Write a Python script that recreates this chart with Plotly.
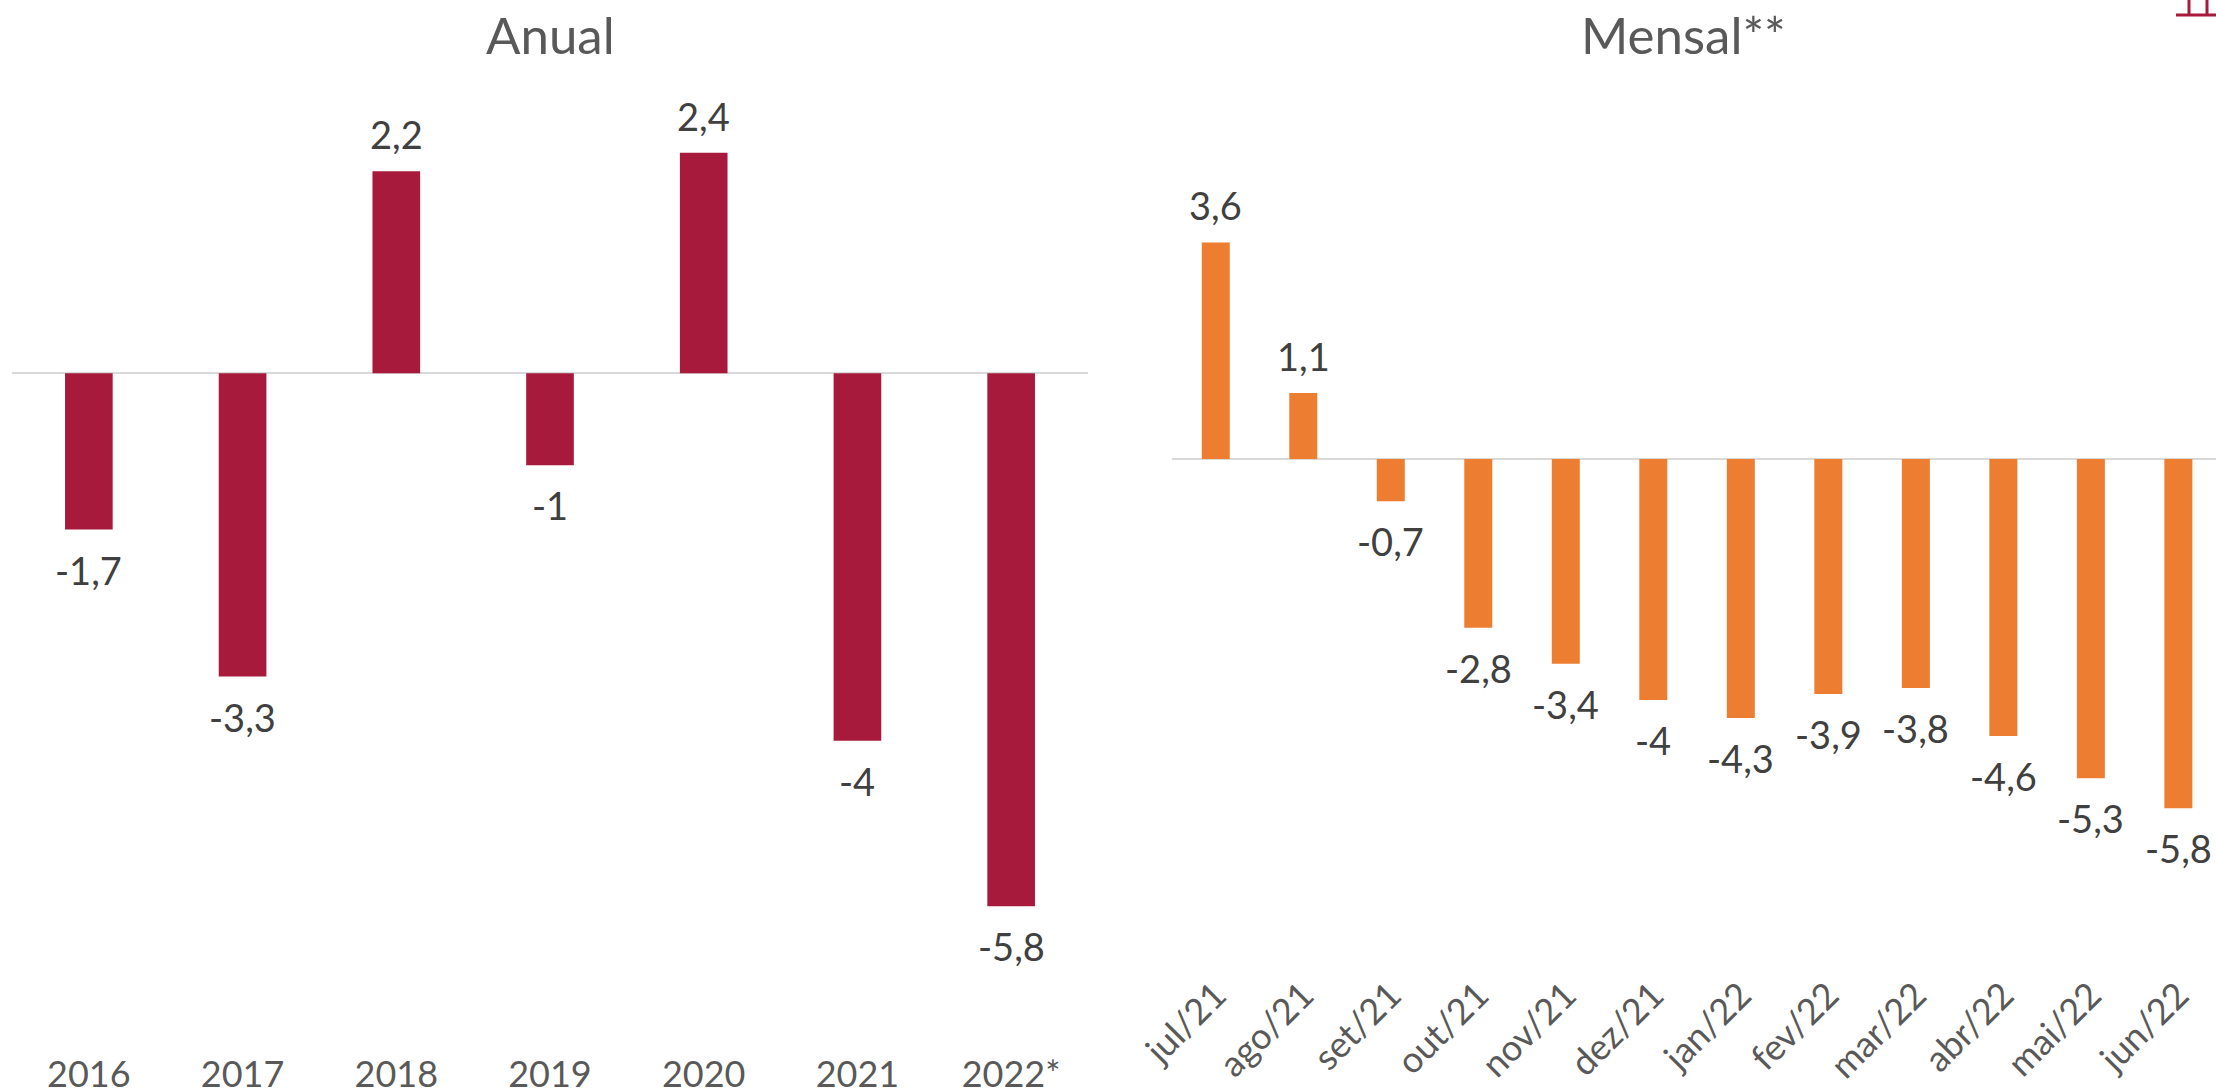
import plotly.graph_objects as go

anos = ["2016", "2017", "2018", "2019", "2020", "2021", "2022*"]
anual = [-1.7, -3.3, 2.2, -1.0, 2.4, -4.0, -5.8]
anual_txt = ["-1,7", "-3,3", "2,2", "-1", "2,4", "-4", "-5,8"]
meses = ["jul/21", "ago/21", "set/21", "out/21", "nov/21", "dez/21", "jan/22", "fev/22", "mar/22", "abr/22", "mai/22", "jun/22"]
mensal = [3.6, 1.1, -0.7, -2.8, -3.4, -4.0, -4.3, -3.9, -3.8, -4.6, -5.3, -5.8]
mensal_txt = ["3,6", "1,1", "-0,7", "-2,8", "-3,4", "-4", "-4,3", "-3,9", "-3,8", "-4,6", "-5,3", "-5,8"]

W, H = 2216, 1088
FONT = "Lato"
fig = go.Figure()
fig.add_trace(go.Bar(x=list(range(len(anos))), y=anual, marker=dict(color="#A71A3C", line=dict(width=0)), width=0.31,
                     xaxis="x", yaxis="y", showlegend=False))
fig.add_trace(go.Bar(x=list(range(len(meses))), y=mensal, marker=dict(color="#ED7D31", line=dict(width=0)), width=0.32,
                     xaxis="x2", yaxis="y2", showlegend=False))

ann = []
for ys, ts, xr, yr in ((anual, anual_txt, "x", "y"), (mensal, mensal_txt, "x2", "y2")):
    for i, (y, t) in enumerate(zip(ys, ts)):
        ann.append(dict(x=i, y=y, xref=xr, yref=yr, text=t, showarrow=False, xanchor="center", yanchor="middle",
                        yshift=37 if y > 0 else -40, font=dict(family=FONT, size=38, color="#404040")))
for text, cx in (("Anual", 550), ("Mensal**", 1683)):
    ann.append(dict(x=cx / W, y=1 - 34 / H, xref="paper", yref="paper", text=text, showarrow=False,
                    xanchor="center", yanchor="middle", font=dict(family=FONT, size=51, color="#595959")))

axis_font = dict(family=FONT, size=36, color="#595959")
fig.update_layout(
    width=W, height=H, margin=dict(l=0, r=0, t=0, b=0, autoexpand=False), paper_bgcolor="white", plot_bgcolor="white",
    barmode="overlay", annotations=ann,
    xaxis=dict(domain=[12 / W, 1088 / W], anchor="y", tickfont=axis_font, showgrid=False, ticks="", showline=False,
               tickangle=0, tickmode="array", tickvals=list(range(len(anos))), ticktext=anos, range=[-0.5, 6.5]),
    yaxis=dict(domain=[1 - 1050 / H, 1 - 60 / H], anchor="x", range=[-7.365, 3.41], showgrid=False,
               showticklabels=False, ticks="", zeroline=True, zerolinecolor="#D9D9D9", zerolinewidth=2),
    xaxis2=dict(domain=[1172 / W, 1], anchor="y2", tickfont=axis_font, showgrid=False, ticks="", showline=False,
                tickangle=-45, tickmode="array", tickvals=list(range(len(meses))), ticktext=meses, range=[-0.5, 11.43]),
    yaxis2=dict(domain=[1 - 966 / H, 1 - 60 / H], anchor="x2", range=[-8.42, 6.63], showgrid=False,
                showticklabels=False, ticks="", zeroline=True, zerolinecolor="#D9D9D9", zerolinewidth=2),
    shapes=[
        dict(type="line", xref="paper", yref="paper", x0=2176 / W, x1=1, y0=1 - 15 / H, y1=1 - 15 / H,
             line=dict(color="#A71A3C", width=3)),
        dict(type="line", xref="paper", yref="paper", x0=2189 / W, x1=2189 / W, y0=1, y1=1 - 15 / H,
             line=dict(color="#A71A3C", width=3)),
        dict(type="line", xref="paper", yref="paper", x0=2207 / W, x1=2207 / W, y0=1, y1=1 - 15 / H,
             line=dict(color="#A71A3C", width=3)),
    ],
)
fig.write_html("out.html", config={"displayModeBar": False},
               post_script="document.body.style.margin='0';document.documentElement.style.overflow='hidden';")
